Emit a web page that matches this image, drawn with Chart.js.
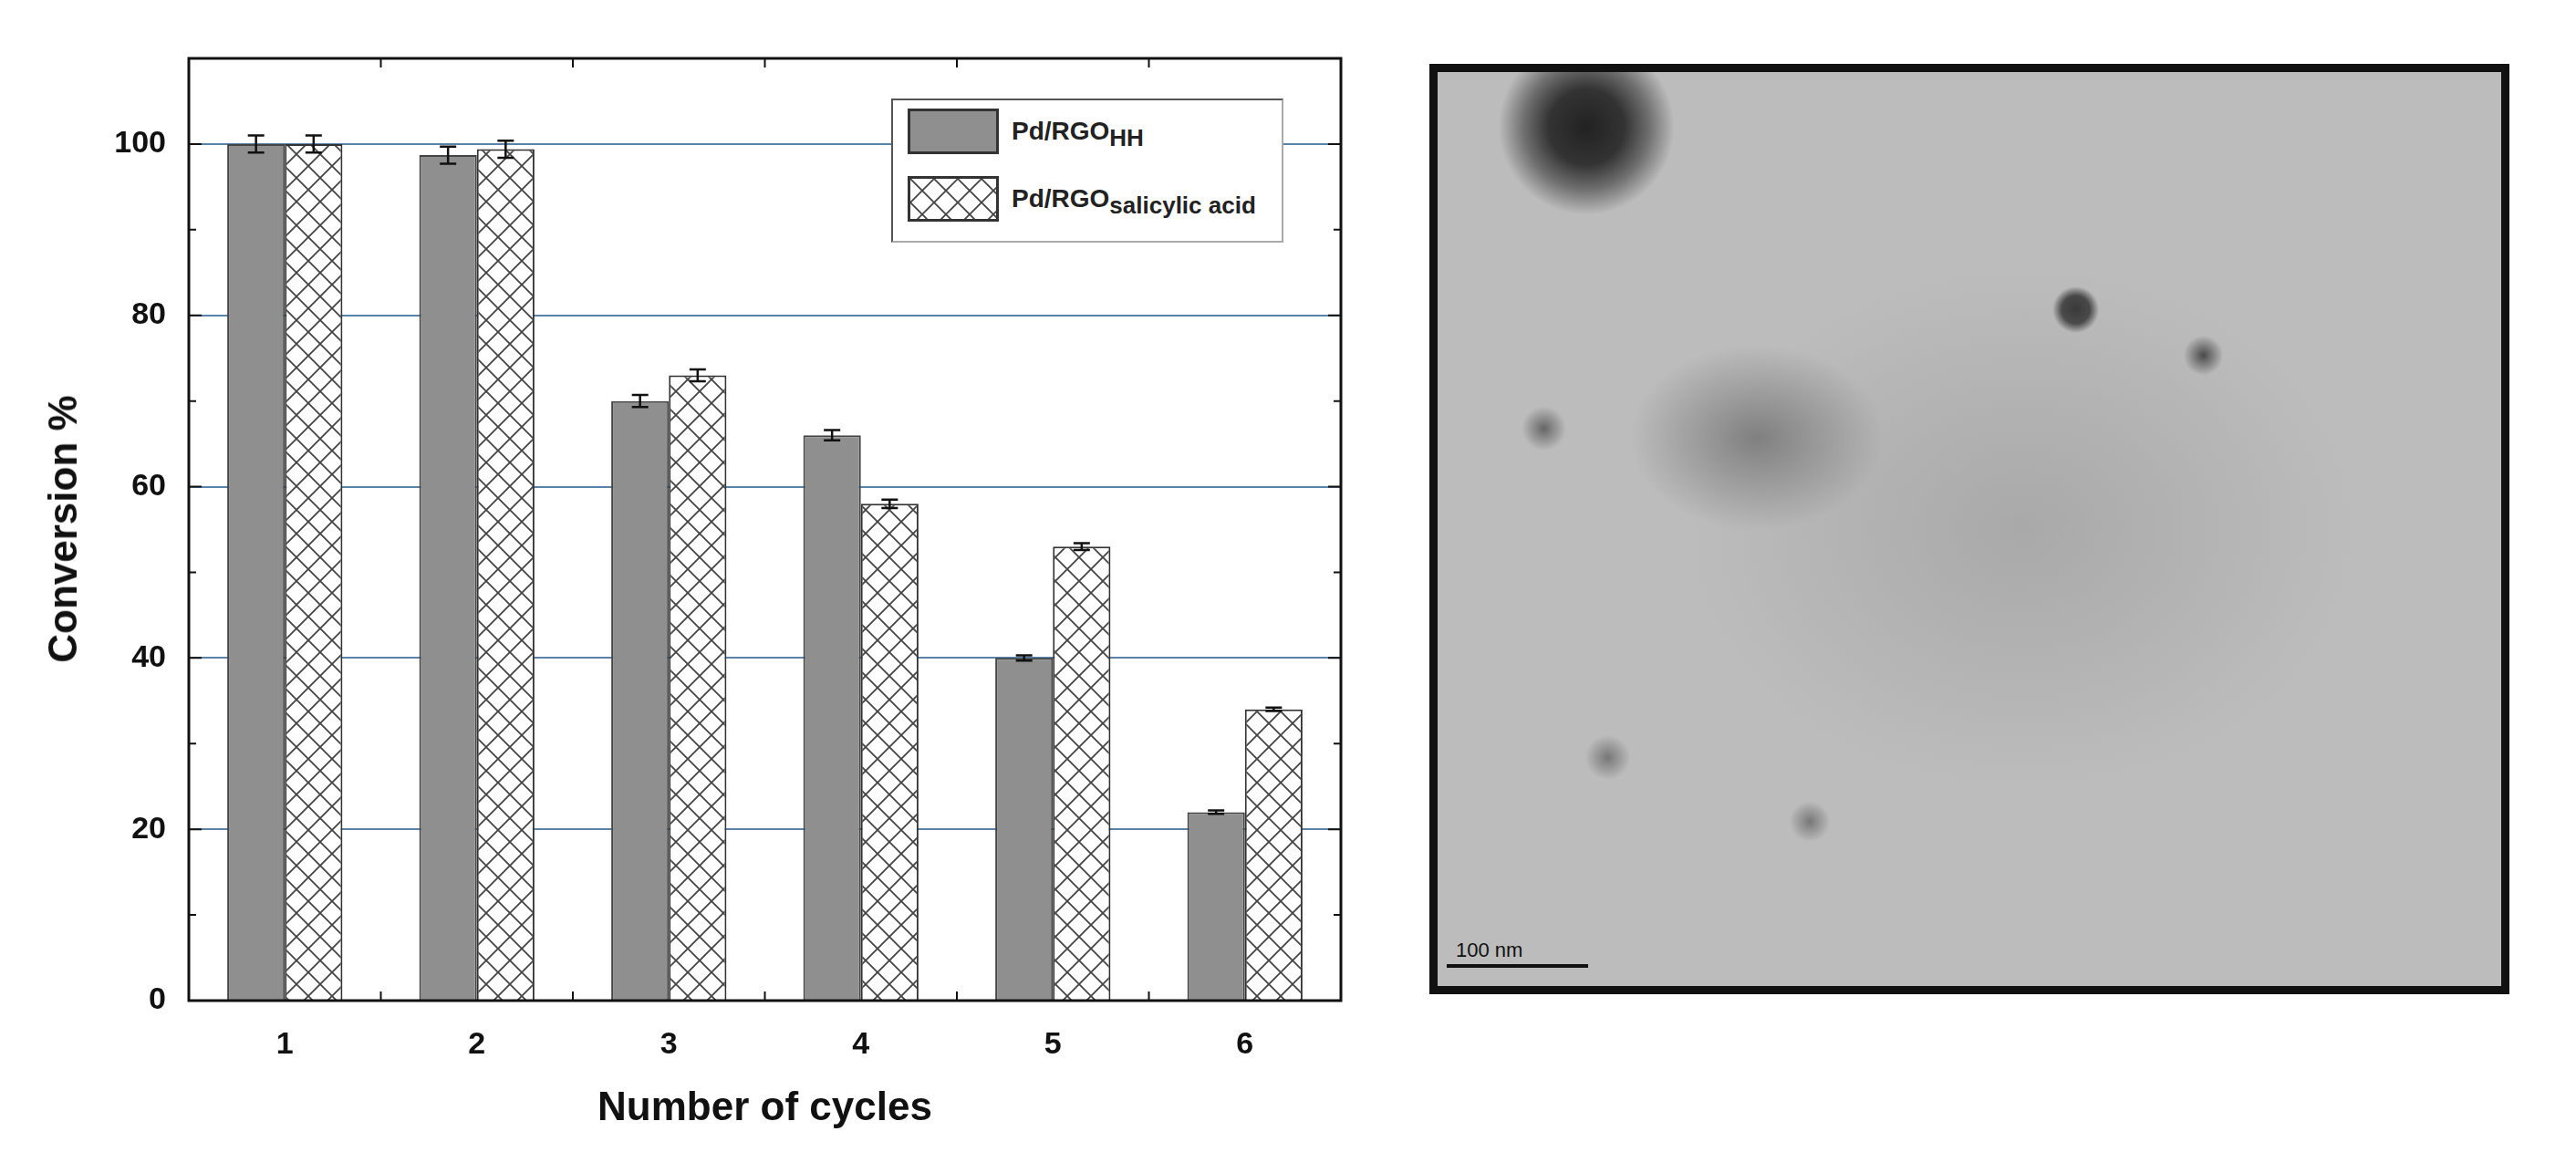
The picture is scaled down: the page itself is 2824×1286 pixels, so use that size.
<!DOCTYPE html>
<html>
<head>
<meta charset="utf-8">
<script src="https://cdn.jsdelivr.net/npm/chart.js@4/dist/chart.umd.min.js"></script>
<style>
  body { margin: 0; background: #fff; width: 2824px; height: 1286px; position: relative; overflow: hidden;
         font-family: "Liberation Sans", Arial, sans-serif; }
  #wrap { position: absolute; left: 0; top: 0; width: 1560px; height: 1286px; }
  .title { position: absolute; font-weight: bold; color: #111; }
  #xtitle { left: 207px; width: 1263px; top: 1188px; text-align: center; font-size: 44px; }
  #ytitle { left: 69px; top: 580px; font-size: 44px; transform: translate(-50%, -50%) rotate(-90deg); white-space: nowrap; }
  #legend { position: absolute; left: 977px; top: 108px; width: 430px; height: 158px; background: #fff;
            border: 2px solid #555; border-right-color: #aaa; border-bottom-color: #aaa; box-sizing: border-box; }
  .row { position: absolute; left: 16px; height: 50px; display: flex; align-items: center; }
  .sw { width: 100px; height: 50px; border: 3px solid #333; box-sizing: border-box; }
  .lab { margin-left: 14px; font-weight: bold; font-size: 28px; color: #222; margin-top: 6px; }
  .lab sub { font-size: 26px; }
  #photo { position: absolute; left: 1567px; top: 70px; width: 1184px; height: 1020px; border: 9px solid #111;
           box-sizing: border-box; overflow: hidden;
           background:
             radial-gradient(circle at 14% 6%, #222 0, #333 3%, rgba(60,60,60,0.6) 5%, transparent 7%),
             radial-gradient(ellipse at 30% 40%, rgba(70,70,70,0.5) 0, transparent 12%),
             radial-gradient(ellipse at 55% 50%, rgba(150,150,150,0.5) 0, transparent 40%),
             radial-gradient(circle at 60% 26%, #333 0, #444 1.5%, transparent 2.5%),
             radial-gradient(circle at 72% 31%, #444 0, transparent 2%),
             radial-gradient(circle at 10% 39%, #666 0, transparent 2%),
             radial-gradient(circle at 16% 75%, #777 0, transparent 2%),
             radial-gradient(circle at 35% 82%, #777 0, transparent 2%),
             #bcbcbc; }
  #bar { position: absolute; left: 10px; bottom: 20px; width: 155px; height: 4px; background: #111; }
  #barlab { position: absolute; left: 20px; bottom: 26px; font-size: 22px; color: #111; }
</style>
</head>
<body>
<div id="wrap"><canvas id="c" width="1560" height="1286"></canvas></div>
<div id="ytitle" class="title">Conversion %</div>
<div id="xtitle" class="title">Number of cycles</div>
<div id="legend">
  <div class="row" style="top:9px"><div class="sw" style="background:#8f8f8f"></div><div class="lab">Pd/RGO<sub>HH</sub></div></div>
  <div class="row" style="top:83px"><div class="sw" id="hatchsw"></div><div class="lab">Pd/RGO<sub>salicylic acid</sub></div></div>
</div>
<div id="photo"><div id="bar"></div><div id="barlab">100 nm</div></div>
<script>
const cycles = ["1", "2", "3", "4", "5", "6"];
const hhValues = [100, 98.7, 70, 66, 40, 22];
const hhErrors = [1.0, 1.0, 0.7, 0.6, 0.3, 0.2];
const saValues = [100, 99.4, 73, 58, 53, 34];
const saErrors = [1.0, 1.0, 0.7, 0.5, 0.4, 0.2];
const yTicks = [0, 20, 40, 60, 80, 100];

function makeHatch() {
    const p = document.createElement("canvas");
    p.width = 26; p.height = 26;
    const g = p.getContext("2d");
    g.fillStyle = "#fff";
    g.fillRect(0, 0, 26, 26);
    g.strokeStyle = "#444";
    g.lineWidth = 1.8;
    g.beginPath();
    g.moveTo(0, 0); g.lineTo(26, 26);
    g.moveTo(26, 0); g.lineTo(0, 26);
    g.stroke();
    return p;
}
const hatchCanvas = makeHatch();
document.getElementById("hatchsw").style.background = "url(" + hatchCanvas.toDataURL() + ")";

const errorBars = {
    id: "errorBars",
    afterDatasetsDraw(chart) {
        const ctx = chart.ctx, y = chart.scales.y;
        const errs = [hhErrors, saErrors];
        ctx.save();
        ctx.strokeStyle = "#111";
        ctx.lineWidth = 2.5;
        chart.data.datasets.forEach((ds, i) => {
            chart.getDatasetMeta(i).data.forEach((bar, j) => {
                const v = ds.data[j], e = errs[i][j];
                const t = y.getPixelForValue(v + e), b = y.getPixelForValue(v - e);
                ctx.beginPath();
                ctx.moveTo(bar.x, t); ctx.lineTo(bar.x, b);
                ctx.moveTo(bar.x - 9, t); ctx.lineTo(bar.x + 9, t);
                ctx.moveTo(bar.x - 9, b); ctx.lineTo(bar.x + 9, b);
                ctx.stroke();
            });
        });
        ctx.restore();
    }
};

const frame = {
    id: "frame",
    afterDraw(chart) {
        const ctx = chart.ctx, a = chart.chartArea, y = chart.scales.y, x = chart.scales.x;
        ctx.save();
        ctx.strokeStyle = "#111";
        ctx.lineWidth = 2;
        ctx.beginPath();
        for (let v = 10; v < 110; v += 10) {
            const py = y.getPixelForValue(v), len = v % 20 === 0 ? 14 : 8;
            ctx.moveTo(a.left, py); ctx.lineTo(a.left + len, py);
            ctx.moveTo(a.right, py); ctx.lineTo(a.right - len, py);
        }
        for (let i = 0; i < cycles.length - 1; i++) {
            const px = (x.getPixelForValue(i) + x.getPixelForValue(i + 1)) / 2;
            ctx.moveTo(px, a.bottom); ctx.lineTo(px, a.bottom - 10);
            ctx.moveTo(px, a.top); ctx.lineTo(px, a.top + 10);
        }
        ctx.stroke();
        ctx.lineWidth = 3;
        ctx.strokeRect(a.left, a.top, a.right - a.left, a.bottom - a.top);
        ctx.restore();
    }
};

new Chart(document.getElementById("c"), {
    type: "bar",
    data: {
        labels: cycles,
        datasets: [
            {label: "Pd/RGO HH", data: hhValues, backgroundColor: "#8f8f8f", borderColor: "#444", borderWidth: 2},
            {label: "Pd/RGO salicylic acid", data: saValues, backgroundColor: null, borderColor: "#333", borderWidth: 2}
        ]
    },
    options: {
        responsive: false,
        animation: false,
        layout: {padding: {top: 64, right: 90, left: 0, bottom: 0}},
        datasets: {bar: {barPercentage: 1, categoryPercentage: 0.6}},
        scales: {
            x: {
                afterFit: s => { s.height = 189; },
                grid: {display: false},
                border: {display: false},
                ticks: {color: "#111", padding: 20, font: {family: "Liberation Sans", size: 34, weight: "bold"}}
            },
            y: {
                min: 0, max: 110,
                afterFit: s => { s.width = 207; },
                afterBuildTicks: s => { s.ticks = [0, 10, 20, 30, 40, 50, 60, 70, 80, 90, 100, 110].map(v => ({value: v})); },
                border: {display: false},
                grid: {
                    drawTicks: false,
                    lineWidth: 2,
                    color: c => (c.tick.value > 0 && c.tick.value < 110 && c.tick.value % 20 === 0) ? "#5a82a8" : "rgba(0,0,0,0)"
                },
                ticks: {
                    color: "#111", padding: 25,
                    font: {family: "Liberation Sans", size: 34, weight: "bold"},
                    callback: v => yTicks.includes(v) ? v : ""
                }
            }
        },
        plugins: {legend: {display: false}, tooltip: {enabled: false}}
    },
    plugins: [{
        id: "hatchFill",
        beforeInit(chart) {
            chart.data.datasets[1].backgroundColor = chart.ctx.createPattern(hatchCanvas, "repeat");
        }
    }, errorBars, frame]
});
</script>
</body>
</html>
